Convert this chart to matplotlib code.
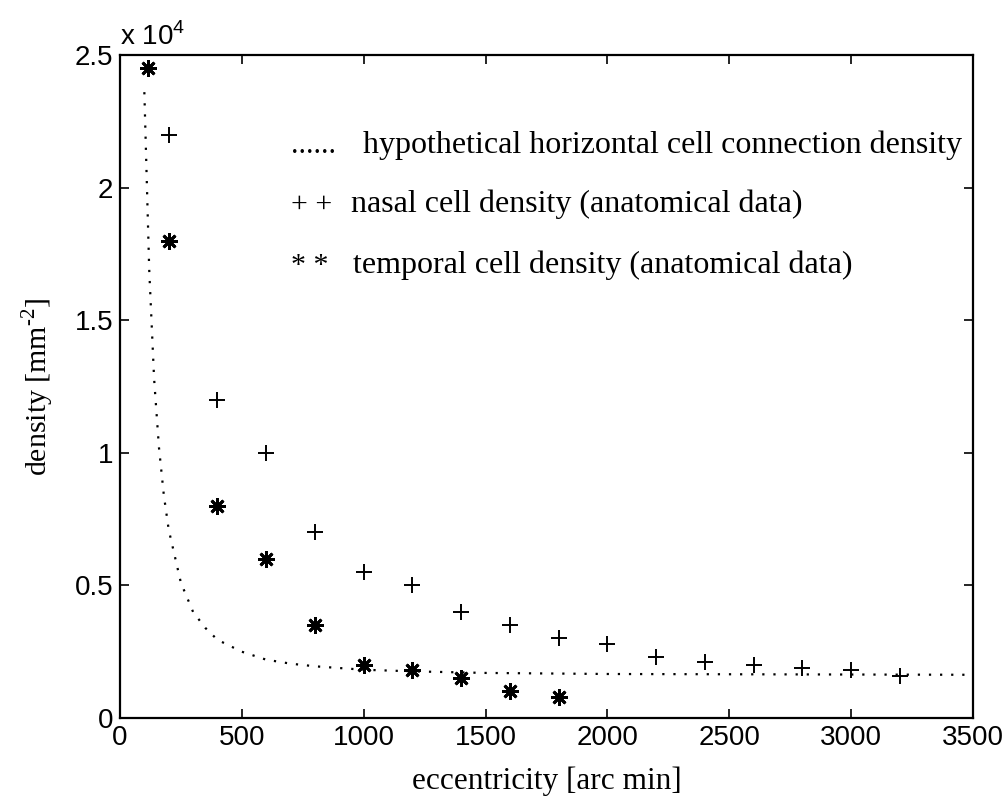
import matplotlib
matplotlib.use("Agg")
import matplotlib.pyplot as plt
from matplotlib.ticker import FuncFormatter

# hypothetical horizontal cell connection density
curve_x = [100, 120, 140, 160, 180, 200, 250, 300, 350, 400, 500, 600, 700,
           800, 1000, 1200, 1500, 2000, 2500, 3000, 3500]
curve_y = [23600, 16900, 12800, 10200, 8400, 7100, 5100, 4000, 3400, 2950,
           2500, 2200, 2050, 1950, 1820, 1760, 1700, 1660, 1650, 1640, 1630]

# nasal cell density (+)
nasal_x = [200, 400, 600, 800, 1000, 1200, 1400, 1600, 1800, 2000, 2200,
           2400, 2600, 2800, 3000, 3200]
nasal_y = [22000, 12000, 10000, 7000, 5500, 5000, 4000, 3500, 3000, 2800,
           2300, 2100, 2000, 1900, 1800, 1600]

# temporal cell density (*)
temp_x = [115, 200, 400, 600, 800, 1000, 1200, 1400, 1600, 1800]
temp_y = [24500, 18000, 8000, 6000, 3500, 2000, 1800, 1500, 1000, 800]

xticks = [0, 500, 1000, 1500, 2000, 2500, 3000, 3500]
yticks = [0, 5000, 10000, 15000, 20000, 25000]

serif = "Liberation Serif"
sans = "Liberation Sans"
plt.rcParams["mathtext.fontset"] = "custom"
plt.rcParams["mathtext.rm"] = serif
plt.rcParams["mathtext.sf"] = sans

fig = plt.figure(figsize=(10.04, 8.01), dpi=100)
ax = fig.add_axes([0.1195, 0.1036, 0.8495, 0.8277])

ax.plot(curve_x, curve_y, color="black", linestyle=(0, (1, 4)), linewidth=1.6)
ax.plot(nasal_x, nasal_y, linestyle="none", marker="+", markersize=11,
        markeredgewidth=1.4, color="black")
ax.plot(temp_x, temp_y, linestyle="none", marker=(8, 2, 0), markersize=12,
        markeredgewidth=2.0, color="black")

ax.set_xlim(0, 3500)
ax.set_ylim(0, 25000)
ax.set_xticks(xticks)
ax.set_yticks(yticks)
ax.yaxis.set_major_formatter(FuncFormatter(lambda v, p: "%g" % (v / 1e4)))
ax.tick_params(direction="in", length=6.5, width=1.2, top=True, right=True,
               labelsize=20, pad=5)
for lab in ax.get_xticklabels() + ax.get_yticklabels():
    lab.set_fontfamily(sans)
for s in ax.spines.values():
    s.set_linewidth(1.6)

ax.text(0.0, 1.015, "x 10$^{\\mathsf{4}}$", transform=ax.transAxes,
        fontsize=20, fontfamily=sans, ha="left", va="baseline")

ax.set_xlabel("eccentricity [arc min]", fontsize=22.5, fontfamily=serif,
              labelpad=11)
ax.set_ylabel("density [mm$^{\\text{-2}}$]", fontsize=21.5, fontfamily=serif,
              labelpad=13)

legend_syms = ["......", "+ +", "* *"]
legend_txt = ["hypothetical horizontal cell connection density",
              "nasal cell density (anatomical data)",
              "temporal cell density (anatomical data)"]
legend_rows = [0.852, 0.763, 0.671]
legend_txt_x = [0.2845, 0.2705, 0.2735]
for sym, txt, yy, tx in zip(legend_syms, legend_txt, legend_rows, legend_txt_x):
    ax.text(0.2, yy, sym, transform=ax.transAxes, fontsize=21.5,
            fontfamily=serif, va="baseline")
    ax.text(tx, yy, txt, transform=ax.transAxes, fontsize=23,
            fontfamily=serif, va="baseline")

fig.savefig("out.png", dpi=100)
